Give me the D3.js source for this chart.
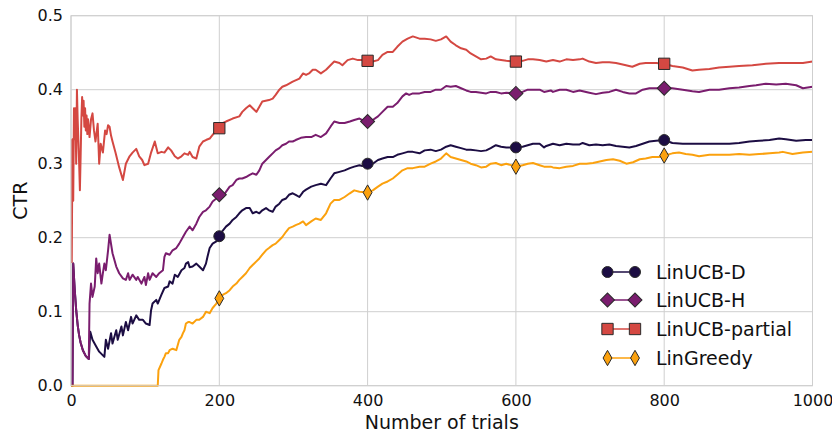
<!DOCTYPE html>
<html><head><meta charset="utf-8">
<script src="https://cdn.jsdelivr.net/npm/d3@7"></script>
<style>body{margin:0;background:#fff} svg{display:block} text{font-family:"DejaVu Sans",Verdana,sans-serif;fill:#111}</style>
</head><body><svg id="chart" width="832" height="435"></svg>
<script>
// ---- data (trial, CTR) ----
const xTicks = [0, 200, 400, 600, 800, 1000];
const yTicks = [0.0, 0.1, 0.2, 0.3, 0.4, 0.5];
const seriesNames = ["LinUCB-D", "LinUCB-H", "LinUCB-partial", "LinGreedy"];
const markerTrials = [200, 400, 600, 800];

const linucbD = [[0,0],[2,0],[3,0.165],[5,0.13],[7,0.102],[9,0.082],[11,0.068],[13,0.058],[16,0.048],[20,0.040],[24,0.036],
[26,0.073],[29,0.062],[34,0.053],[38,0.046],[45,0.039],[47,0.062],[50,0.050],[54,0.071],[56,0.057],[61,0.075],[63,0.062],
[68,0.080],[70,0.068],[74,0.086],[77,0.075],[81,0.093],[83,0.084],[88,0.095],[92,0.089],[97,0.089],[101,0.084],[106,0.082],
[108,0.102],[110,0.111],[115,0.116],[117,0.111],[122,0.123],[126,0.132],[131,0.134],[133,0.141],[137,0.138],[140,0.150],
[144,0.147],[149,0.156],[153,0.159],[155,0.165],[158,0.167],[160,0.160],[164,0.161],[169,0.165],[173,0.161],[178,0.156],
[182,0.165],[184,0.174],[187,0.186],[191,0.192],[196,0.195],[200,0.202],[205,0.210],[209,0.215],[214,0.219],[218,0.224],
[223,0.228],[227,0.233],[231,0.237],[236,0.240],[241,0.240],[245,0.233],[250,0.235],[254,0.233],[258,0.237],[263,0.240],
[267,0.237],[272,0.235],[276,0.242],[281,0.246],[285,0.251],[290,0.253],[294,0.258],[299,0.260],[303,0.258],[308,0.255],
[313,0.262],[317,0.265],[324,0.269],[330,0.271],[337,0.273],[344,0.271],[350,0.280],[355,0.287],[362,0.289],[369,0.291],
[376,0.294],[382,0.296],[389,0.298],[393,0.297],[400,0.300],[407,0.300],[414,0.305],[420,0.307],[427,0.309],[434,0.309],
[440,0.312],[447,0.314],[454,0.316],[461,0.316],[470,0.314],[477,0.318],[485,0.319],[492,0.317],[499,0.319],[506,0.323],
[512,0.325],[519,0.323],[526,0.321],[533,0.319],[539,0.319],[546,0.318],[553,0.317],[560,0.318],[566,0.321],[573,0.325],
[580,0.323],[587,0.322],[600,0.322],[609,0.323],[616,0.325],[623,0.327],[632,0.327],[638,0.322],[641,0.324],[650,0.327],
[659,0.325],[668,0.327],[677,0.326],[686,0.326],[690,0.328],[699,0.325],[708,0.326],[717,0.325],[726,0.326],[735,0.324],
[744,0.323],[753,0.322],[762,0.324],[771,0.327],[780,0.330],[789,0.331],[800,0.332],[811,0.328],[825,0.327],[838,0.327],
[847,0.327],[861,0.327],[874,0.327],[888,0.327],[901,0.328],[915,0.330],[928,0.331],[942,0.332],[955,0.334],[964,0.333],
[978,0.331],[991,0.332],[1000,0.332]];

const linucbH = [[0,0],[2,0],[3,0.165],[5,0.13],[7,0.102],[9,0.082],[11,0.068],[13,0.058],[16,0.048],[20,0.040],[24,0.036],
[25,0.111],[27,0.138],[29,0.120],[32,0.134],[34,0.172],[36,0.152],[38,0.165],[41,0.138],[43,0.152],[45,0.165],[47,0.156],
[50,0.183],[52,0.204],[56,0.179],[61,0.161],[65,0.152],[70,0.145],[74,0.143],[77,0.152],[79,0.143],[83,0.150],[88,0.143],
[90,0.147],[95,0.138],[99,0.147],[101,0.136],[104,0.152],[106,0.143],[110,0.152],[115,0.147],[119,0.152],[124,0.156],
[126,0.174],[128,0.179],[133,0.177],[137,0.183],[142,0.186],[146,0.192],[151,0.201],[155,0.208],[160,0.215],[164,0.210],
[169,0.219],[173,0.228],[178,0.235],[182,0.237],[187,0.242],[191,0.249],[196,0.253],[200,0.258],[205,0.255],[209,0.262],
[214,0.269],[218,0.271],[223,0.278],[227,0.280],[231,0.280],[236,0.282],[241,0.285],[245,0.287],[250,0.285],[254,0.291],
[258,0.300],[263,0.305],[267,0.309],[272,0.314],[276,0.318],[281,0.321],[285,0.325],[290,0.327],[294,0.330],[299,0.330],
[303,0.332],[310,0.335],[317,0.336],[324,0.336],[330,0.339],[337,0.336],[344,0.341],[350,0.350],[355,0.357],[362,0.355],
[369,0.355],[376,0.357],[382,0.359],[389,0.361],[393,0.359],[400,0.357],[407,0.359],[414,0.364],[420,0.370],[427,0.377],
[434,0.377],[440,0.382],[447,0.391],[452,0.395],[456,0.393],[461,0.395],[470,0.395],[477,0.397],[485,0.397],[492,0.400],
[499,0.400],[506,0.405],[512,0.404],[519,0.405],[526,0.402],[533,0.399],[539,0.397],[546,0.397],[553,0.396],[560,0.395],
[566,0.397],[573,0.397],[580,0.395],[587,0.396],[600,0.395],[609,0.397],[616,0.400],[623,0.400],[632,0.400],[638,0.397],
[647,0.399],[650,0.397],[659,0.400],[668,0.400],[677,0.397],[686,0.399],[699,0.396],[708,0.394],[717,0.396],[726,0.397],
[735,0.400],[744,0.397],[753,0.395],[762,0.395],[771,0.400],[780,0.402],[789,0.402],[800,0.402],[811,0.402],[825,0.400],
[838,0.398],[847,0.397],[861,0.400],[874,0.400],[888,0.402],[901,0.403],[915,0.405],[924,0.406],[937,0.408],[951,0.407],
[964,0.408],[978,0.406],[987,0.402],[1000,0.404]];

const linucbPartial = [[0,0.333],[1,0.167],[2,0.333],[3,0.25],[4,0.375],[5,0.333],[6,0.375],[7,0.30],[8,0.40],[9,0.36],
[10,0.33],[11,0.30],[12,0.264],[13,0.31],[14,0.36],[15,0.39],[16,0.365],[17,0.385],[18,0.35],[19,0.375],[20,0.345],
[21,0.365],[22,0.34],[23,0.36],[25,0.336],[27,0.36],[29,0.368],[31,0.345],[33,0.33],[36,0.354],[38,0.30],[40,0.327],
[43,0.315],[46,0.345],[48,0.34],[50,0.352],[52,0.35],[54,0.338],[56,0.33],[60,0.315],[65,0.295],[70,0.278],[74,0.30],
[79,0.31],[83,0.315],[88,0.32],[92,0.31],[96,0.305],[99,0.298],[104,0.30],[108,0.315],[113,0.33],[117,0.314],[122,0.316],
[126,0.315],[131,0.322],[135,0.318],[140,0.31],[144,0.307],[149,0.31],[153,0.314],[158,0.312],[160,0.316],[164,0.309],
[169,0.307],[173,0.323],[178,0.330],[182,0.332],[187,0.334],[191,0.339],[196,0.345],[200,0.348],[205,0.355],[209,0.357],
[218,0.361],[227,0.364],[231,0.370],[236,0.375],[241,0.379],[245,0.375],[250,0.370],[254,0.377],[258,0.384],[267,0.386],
[272,0.388],[276,0.393],[281,0.400],[285,0.404],[290,0.406],[299,0.411],[308,0.415],[313,0.422],[317,0.420],[321,0.422],
[326,0.427],[330,0.427],[337,0.422],[344,0.427],[350,0.433],[355,0.438],[362,0.436],[366,0.433],[373,0.440],[380,0.442],
[387,0.440],[393,0.440],[400,0.439],[407,0.438],[414,0.440],[420,0.447],[427,0.451],[434,0.451],[440,0.458],[447,0.465],
[454,0.469],[461,0.472],[470,0.469],[477,0.469],[485,0.468],[492,0.466],[499,0.468],[506,0.472],[512,0.465],[519,0.460],
[526,0.456],[533,0.454],[539,0.449],[546,0.445],[553,0.441],[560,0.442],[566,0.445],[573,0.441],[580,0.440],[587,0.439],
[600,0.438],[609,0.439],[616,0.441],[623,0.441],[632,0.440],[641,0.438],[650,0.440],[659,0.438],[668,0.441],[677,0.440],
[686,0.441],[690,0.442],[699,0.438],[708,0.436],[717,0.437],[726,0.437],[735,0.436],[744,0.434],[757,0.431],[767,0.435],
[775,0.436],[789,0.436],[800,0.435],[811,0.432],[825,0.430],[838,0.426],[847,0.427],[861,0.428],[874,0.430],[888,0.431],
[901,0.432],[919,0.433],[937,0.435],[955,0.436],[973,0.436],[987,0.436],[1000,0.438]];

const linGreedy = [[0,0],[117,0],[118,0.021],[122,0.030],[124,0.035],[126,0.039],[128,0.044],[131,0.044],[133,0.048],
[137,0.050],[142,0.048],[144,0.055],[146,0.062],[149,0.066],[151,0.071],[153,0.075],[155,0.084],[158,0.086],[160,0.086],
[164,0.084],[169,0.089],[173,0.089],[178,0.093],[182,0.100],[187,0.098],[191,0.105],[196,0.111],[200,0.118],[205,0.123],
[209,0.125],[214,0.129],[218,0.134],[223,0.138],[227,0.143],[231,0.147],[236,0.152],[241,0.159],[245,0.163],[250,0.168],
[254,0.172],[258,0.177],[263,0.183],[267,0.186],[272,0.190],[276,0.192],[281,0.197],[285,0.201],[290,0.208],[294,0.213],
[299,0.215],[303,0.217],[308,0.219],[313,0.222],[317,0.217],[324,0.222],[330,0.226],[337,0.224],[344,0.233],[350,0.246],
[355,0.251],[362,0.251],[369,0.255],[376,0.260],[382,0.264],[389,0.262],[400,0.261],[407,0.264],[414,0.269],[420,0.273],
[427,0.276],[434,0.280],[440,0.285],[447,0.291],[454,0.294],[461,0.294],[470,0.296],[477,0.296],[485,0.300],[492,0.303],
[499,0.307],[506,0.314],[512,0.309],[519,0.307],[526,0.305],[533,0.303],[539,0.300],[546,0.298],[553,0.295],[560,0.296],
[566,0.300],[573,0.301],[580,0.298],[587,0.300],[600,0.296],[609,0.298],[616,0.300],[623,0.301],[632,0.298],[638,0.296],
[647,0.296],[650,0.295],[659,0.294],[668,0.296],[677,0.297],[686,0.300],[695,0.300],[704,0.301],[713,0.303],[722,0.305],
[731,0.306],[740,0.304],[749,0.300],[758,0.302],[767,0.306],[775,0.307],[784,0.309],[793,0.309],[800,0.311],[811,0.314],
[820,0.315],[829,0.313],[838,0.312],[847,0.310],[861,0.312],[874,0.312],[888,0.312],[901,0.313],[915,0.312],[928,0.313],
[942,0.314],[955,0.315],[960,0.316],[973,0.313],[987,0.315],[1000,0.316]];

// ---- drawing ----
const seriesData = [linucbD, linucbH, linucbPartial, linGreedy];
const colors = ["#1c0d43", "#7a1d6e", "#d44842", "#fba10e"];
const symbols = [
  {type: d3.symbolCircle, size: 95, rotate: 0},
  {type: d3.symbolSquare, size: 98, rotate: 45},
  {type: d3.symbolSquare, size: 128, rotate: 0},
  {type: d3.symbolDiamond, size: 68, rotate: 0}
];

const svg = d3.select("#chart");
const x = d3.scaleLinear().domain([0, 1000]).range([71, 812.5]);
const y = d3.scaleLinear().domain([0, 0.5]).range([385.7, 15.7]);
const gridColor = "#cfcfcf";

// grid
const grid = svg.append("g");
grid.selectAll(".vg").data(xTicks).join("line")
  .attr("x1", d => x(d)).attr("x2", d => x(d))
  .attr("y1", y(0)).attr("y2", y(0.5))
  .attr("stroke", gridColor).attr("stroke-width", 1);
grid.selectAll(".hg").data(yTicks).join("line")
  .attr("x1", x(0)).attr("x2", x(1000))
  .attr("y1", d => y(d)).attr("y2", d => y(d))
  .attr("stroke", gridColor).attr("stroke-width", 1);

// axes
const xAxis = svg.append("g").attr("transform", `translate(0,${y(0)})`)
  .call(d3.axisBottom(x).tickValues(xTicks).tickSize(0).tickPadding(9).tickFormat(d3.format("d")));
const yAxis = svg.append("g").attr("transform", `translate(${x(0)},0)`)
  .call(d3.axisLeft(y).tickValues(yTicks).tickSize(0).tickPadding(8).tickFormat(d3.format(".1f")));
[xAxis, yAxis].forEach(a => {
  a.select(".domain").remove();
  a.selectAll("text").style("font-family", '"DejaVu Sans", Verdana, sans-serif')
    .style("font-size", "16px").attr("fill", "#111");
});

svg.append("text").attr("x", (x(0) + x(1000)) / 2).attr("y", 429)
  .attr("text-anchor", "middle").style("font-size", "19px").text("Number of trials");
svg.append("text").attr("transform", `translate(26.5,${(y(0) + y(0.5)) / 2}) rotate(-90)`)
  .attr("text-anchor", "middle").style("font-size", "19px").text("CTR");

// clip
svg.append("clipPath").attr("id", "plotclip").append("rect")
  .attr("x", x(0)).attr("y", y(0.5) - 10).attr("width", x(1000) - x(0)).attr("height", y(0) - y(0.5) + 12);

const line = d3.line().x(d => x(d[0])).y(d => y(d[1]));
const symbolPath = i => d3.symbol().type(symbols[i].type).size(symbols[i].size)();

const plot = svg.append("g");
seriesData.forEach((data, i) => {
  plot.append("path").datum(data).attr("d", line)
    .attr("fill", "none").attr("stroke", colors[i]).attr("stroke-width", 2)
    .attr("stroke-linejoin", "round").attr("clip-path", "url(#plotclip)");
  plot.selectAll(".m" + i).data(data.filter(d => markerTrials.includes(d[0]))).join("path")
    .attr("d", symbolPath(i))
    .attr("transform", d => `translate(${x(d[0])},${y(d[1])}) rotate(${symbols[i].rotate})`)
    .attr("fill", colors[i]).attr("stroke", "#2a2a2a").attr("stroke-width", 1);
});

// frame
svg.append("rect").attr("x", x(0)).attr("y", y(0.5))
  .attr("width", x(1000) - x(0)).attr("height", y(0) - y(0.5))
  .attr("fill", "none").attr("stroke", gridColor).attr("stroke-width", 1);

// legend
const legRows = [272, 300, 329, 358];
const leg = svg.append("g");
seriesNames.forEach((name, i) => {
  const g = leg.append("g").attr("transform", `translate(0,${legRows[i]})`);
  g.append("line").attr("x1", 607.5).attr("x2", 635).attr("y1", 0).attr("y2", 0)
    .attr("stroke", colors[i]).attr("stroke-width", 1.5);
  [607.5, 635].forEach(px => {
    g.append("path").attr("d", symbolPath(i))
      .attr("transform", `translate(${px},0) rotate(${symbols[i].rotate})`)
      .attr("fill", colors[i]).attr("stroke", "#2a2a2a").attr("stroke-width", 1);
  });
  g.append("text").attr("x", 656).attr("y", 0).attr("dy", "0.36em")
    .style("font-size", "19px").text(name);
});
</script></body></html>
